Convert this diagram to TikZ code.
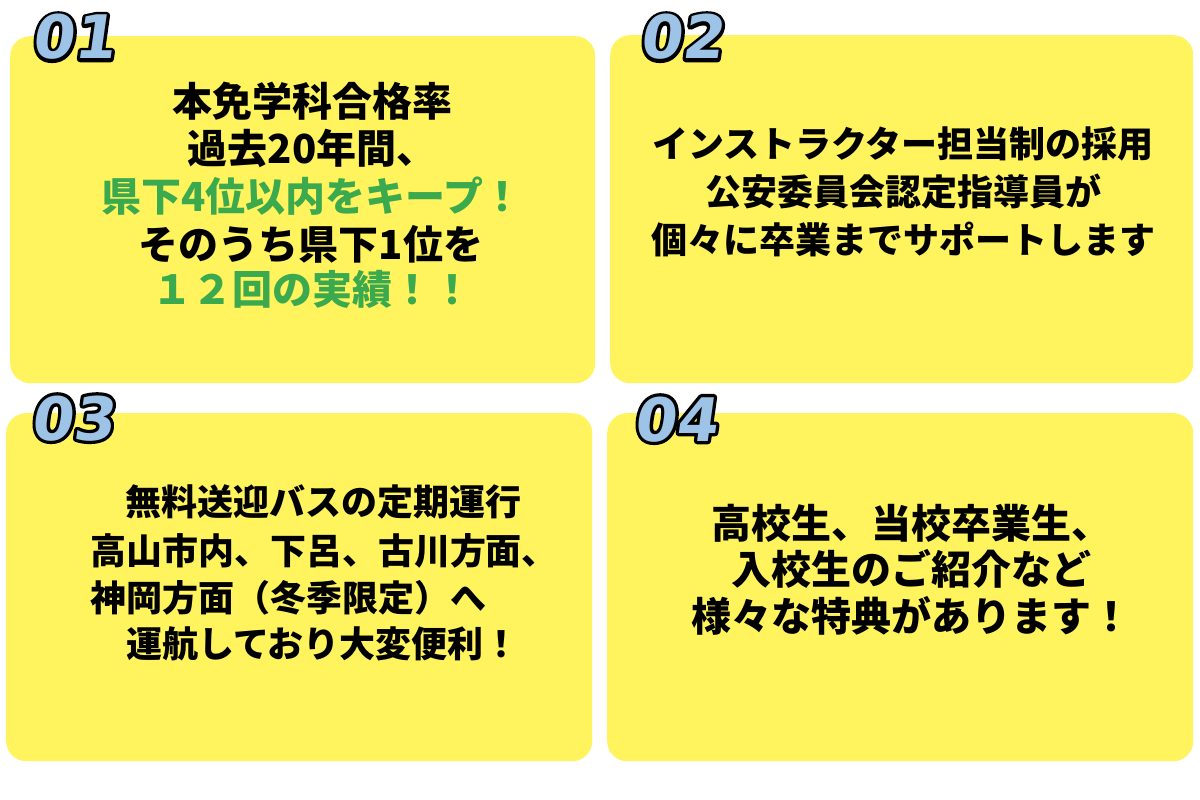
\documentclass[tikz,border=0pt]{standalone}
\usepackage{fontspec}
\newfontfamily\jp{Noto Sans CJK JP}
\newfontfamily\numfont{DejaVu Sans Bold}[FakeSlant=0.14]
\definecolor{cardyellow}{HTML}{FFF35E}
\definecolor{numblue}{HTML}{9DC3E6}
\definecolor{hlgreen}{HTML}{3BA94D}
\tikzset{
  card/.style={fill=cardyellow, rounded corners=20pt, inner sep=0pt, anchor=north west},
  numlabel/.style={inner sep=0pt, anchor=base, font=\numfont\fontsize{60}{60}\selectfont},
  bodyline/.style={inner sep=0pt, anchor=center, text height=0.88em, text depth=0.12em, text=black},
  bigtext/.style={bodyline, font=\jp\bfseries\fontsize{40}{40}\selectfont},
  midtext/.style={bodyline, font=\jp\bfseries\fontsize{36}{36}\selectfont},
  green/.style={text=hlgreen}
}
\newcommand{\numtext}[1]{\rlap{\textcolor{black}{\special{pdf:literal direct 1 Tr 6.5 w 0 0 0 RG 1 j}#1\special{pdf:literal direct 0 Tr}}}\textcolor{numblue}{#1}}
\begin{document}
\begin{tikzpicture}[x=1pt,y=-1pt]
\useasboundingbox[fill=white] (0,0) rectangle (1200,800);
% cards
\node[card, minimum width=585pt, minimum height=347pt] (c1) at (10,36) {};
\node[card, minimum width=583pt, minimum height=348pt] (c2) at (610,35) {};
\node[card, minimum width=586pt, minimum height=348pt] (c3) at (6,413) {};
\node[card, minimum width=586pt, minimum height=348pt] (c4) at (607,413) {};
% numbers
\node[numlabel] (n1) at (73,59) {\numtext{01}};
\node[numlabel] (n2) at (681,59) {\numtext{02}};
\node[numlabel] (n3) at (72,440) {\numtext{03}};
\node[numlabel] (n4) at (675,441) {\numtext{04}};
% card 1
\node[bigtext] (t1a) at (312,113) {本免学科合格率};
\node[bigtext] (t1b) at (312,160) {過去20年間、};
\node[bigtext, green] (t1c) at (312,208) {県下4位以内をキープ！};
\node[bigtext] (t1d) at (311,256) {そのうち県下1位を};
\node[bigtext, green] (t1e) at (312,301) {１２回の実績！！};
% card 2
\node[midtext] (t2a) at (903,154) {インストラクター担当制の採用};
\node[midtext] (t2b) at (903,202) {公安委員会認定指導員が};
\node[midtext] (t2c) at (903,250) {個々に卒業までサポートします};
% card 3
\node[midtext] (t3a) at (323,512) {無料送迎バスの定期運行};
\node[midtext] (t3b) at (324,561) {高山市内、下呂、古川方面、};
\node[midtext] (t3c) at (288,608) {神岡方面（冬季限定）へ};
\node[midtext] (t3d) at (323,654) {運航しており大変便利！};
% card 4
\node[bigtext] (t4a) at (911,535) {高校生、当校卒業生、};
\node[bigtext] (t4b) at (911,581) {入校生のご紹介など};
\node[bigtext] (t4c) at (911,628) {様々な特典があります！};
\end{tikzpicture}
\end{document}
